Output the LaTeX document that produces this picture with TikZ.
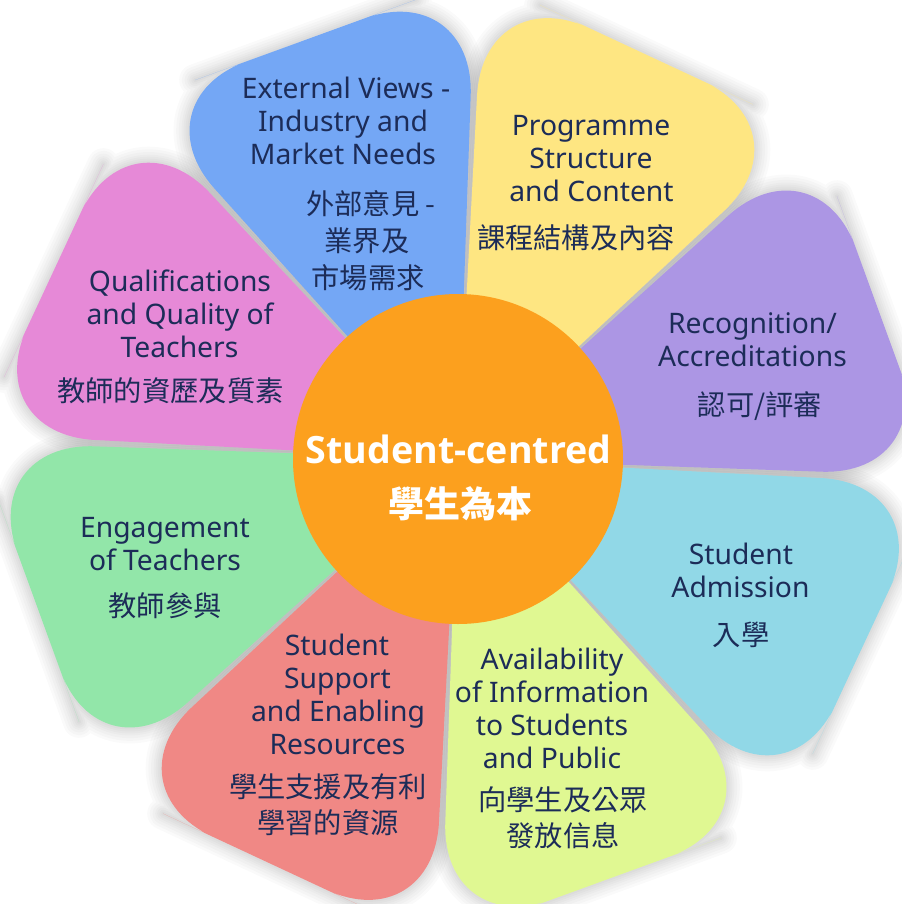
\documentclass[tikz,border=0pt]{standalone}
\usepackage{fontspec}
\setmainfont{Noto Sans}
\newfontfamily\cjk{Noto Sans CJK TC}
\newfontfamily\hubfont{Open Sans}
\definecolor{pblue}{RGB}{116,167,245}
\definecolor{pyellow}{RGB}{254,230,130}
\definecolor{ppurple}{RGB}{172,150,228}
\definecolor{pcyan}{RGB}{145,216,231}
\definecolor{plime}{RGB}{224,248,146}
\definecolor{pred}{RGB}{240,136,133}
\definecolor{pgreen}{RGB}{146,230,169}
\definecolor{ppink}{RGB}{230,137,215}
\definecolor{corange}{RGB}{252,160,30}
\definecolor{ink}{RGB}{28,44,88}
\newcommand{\petalpath}{(446,0) -- (446,180.2) -- (0,0) -- (446,-180.2) -- cycle}
\tikzset{
  en/.style={anchor=base, inner sep=0pt, text=ink, font=\fontsize{21.2}{25}\selectfont},
  zh/.style={anchor=base, inner sep=0pt, text=ink, font=\cjk\fontsize{21.2}{25}\selectfont},
  petalshadow/.style={draw=black, draw opacity=0.018, rounded corners=88, line join=round},
  petalfill/.style={rounded corners=88}
}
\begin{document}
\begin{tikzpicture}[x=0.75pt,y=0.75pt]
\useasboundingbox (0,-904) rectangle (902,0);
\fill[white] (0,-904) rectangle (902,0);
% soft shadows
\foreach \a in {65,20,-25,-70,-115,-160,155,110}{
  \begin{scope}[shift={(458,-459)}, rotate=\a]
    \foreach \w in {24,20,16,12,9,6,3}{
      \draw[petalshadow, line width=\w pt] \petalpath;
    }
  \end{scope}
}
% petals
\foreach \a/\c in {65/pyellow,20/ppurple,-25/pcyan,-70/plime,-115/pred,-160/pgreen,155/ppink,110/pblue}{
  \begin{scope}[shift={(458,-459)}, rotate=\a]
    \fill[petalfill, \c] \petalpath;
  \end{scope}
}
% centre
\node[circle, fill=corange, minimum size=330*0.75pt, inner sep=0pt] (hub) at (458,-459) {};
\node[anchor=base, inner sep=0pt, text=white, font=\hubfont\bfseries\fontsize{28.2}{30}\selectfont] (hubE) at (458.5,-463) {Student-centred};
\node[anchor=base, inner sep=0pt, text=white, font=\cjk\bfseries\fontsize{27}{30}\selectfont] (hubZ) at (460,-517) {學生為本};
% blue
\node[en] (b1) at (346,-98) {External Views -};
\node[en] (b2) at (343,-131) {Industry and};
\node[en] (b3) at (343,-164) {Market Needs};
\node[zh] (b4) at (371,-214) {外部意見 -};
\node[zh] (b5) at (367,-251) {業界及};
\node[zh] (b6) at (368,-288) {市場需求};
% yellow
\node[en] (y1) at (591,-135) {Programme};
\node[en] (y2) at (591,-168) {Structure};
\node[en] (y3) at (591.5,-201) {and Content};
\node[zh] (y4) at (576,-248) {課程結構及內容};
% purple
\node[en] (p1) at (752.5,-333) {Recognition/};
\node[en] (p2) at (752.5,-366) {Accreditations};
\node[zh] (p3) at (760,-415) {認可/評審};
% pink
\node[en] (k1) at (180,-291) {Qualifications};
\node[en] (k2) at (180,-324) {and Quality of};
\node[en] (k3) at (179.5,-357) {Teachers};
\node[zh] (k4) at (170.5,-401) {教師的資歷及質素};
% green
\node[en] (g1) at (165,-537) {Engagement};
\node[en] (g2) at (165,-570) {of Teachers};
\node[zh] (g3) at (165,-616) {教師參與};
% red
\node[en] (r1) at (337,-655) {Student};
\node[en] (r2) at (337.5,-688) {Support};
\node[en] (r3) at (338,-721) {and Enabling};
\node[en] (r4) at (337.5,-754) {Resources};
\node[zh] (r5) at (328,-797) {學生支援及有利};
\node[zh] (r6) at (328,-833) {學習的資源};
% lime
\node[en] (l1) at (552,-669) {Availability};
\node[en] (l2) at (552,-702) {of Information};
\node[en] (l3) at (552,-735) {to Students};
\node[en] (l4) at (552,-768) {and Public};
\node[zh] (l5) at (563,-810) {向學生及公眾};
\node[zh] (l6) at (563,-846) {發放信息};
% cyan
\node[en] (c1) at (741,-564) {Student};
\node[en] (c2) at (740.5,-597) {Admission};
\node[zh] (c3) at (741,-645) {入學};
\end{tikzpicture}
\end{document}
